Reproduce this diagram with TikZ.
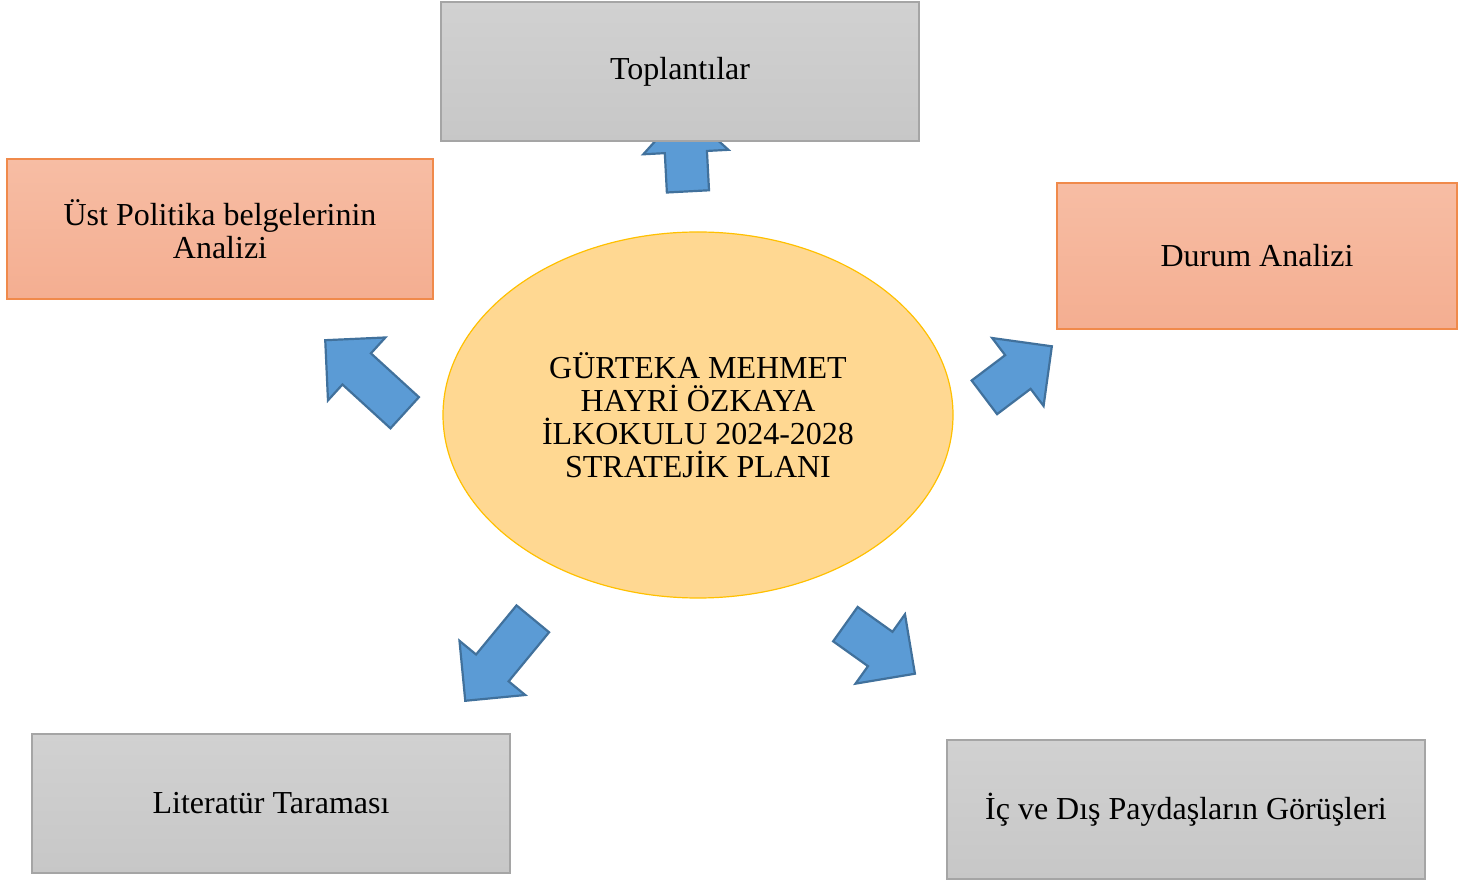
\documentclass[tikz,border=0pt]{standalone}
\usepackage{fontspec}
\setmainfont{Liberation Serif}
\usetikzlibrary{shapes.geometric,shapes.arrows}
\definecolor{grayTop}{HTML}{D1D1D1}
\definecolor{grayBot}{HTML}{C7C7C7}
\definecolor{grayEdge}{HTML}{A5A5A5}
\definecolor{salmonTop}{HTML}{F7BDA4}
\definecolor{salmonBot}{HTML}{F4AE91}
\definecolor{salmonEdge}{HTML}{F08A4B}
\definecolor{planFill}{HTML}{FFD892}
\definecolor{planEdge}{HTML}{FFC000}
\definecolor{arFill}{HTML}{5B9BD5}
\definecolor{arEdge}{HTML}{41719C}
\tikzset{
	txt/.style={font=\fontsize{16}{16.5}\selectfont, align=center, inner sep=0pt},
	graybox/.style={txt, draw=grayEdge, line width=0.7pt,
		top color=grayTop, bottom color=grayBot,
		minimum width=239pt, minimum height=69.5pt},
	salmonbox/.style={txt, draw=salmonEdge, line width=0.7pt,
		top color=salmonTop, bottom color=salmonBot},
	planshape/.style={txt, ellipse, draw=planEdge, fill=planFill, line width=0.6pt,
		minimum width=255pt, minimum height=183pt},
	% block arrows: head 41.5pt wide, shaft about 20pt
	blockar/.style={single arrow, draw=arEdge, fill=arFill, line width=1.1pt,
		minimum width=41.5pt, single arrow head extend=10.75pt,
		single arrow tip angle=90, inner xsep=0pt, inner ysep=10pt, anchor=tail,
		minimum height=#1},
	blockar/.default=42pt
}
\begin{document}
\begin{tikzpicture}[x=0.5pt, y=-0.5pt]
	\useasboundingbox (0,0) rectangle (1478,881);
	% arrows first, the top one goes under its box
	\node[blockar=41pt, rotate=93] (arTop) at (688,192.5) {};
	\node[blockar=53.8pt, rotate=137.6] (arUst) at (405.5,413.5) {};
	\node[blockar=42.3pt, rotate=37.1] (arDurum) at (983.5,398) {};
	\node[blockar=53.1pt, rotate=230.5] (arLit) at (533.5,618) {};
	\node[blockar=42.7pt, rotate=-35.5] (arGorus) at (844.5,623.5) {};
	% center
	\node[planshape] (plan) at (698,415)
		{GÜRTEKA MEHMET\\HAYRİ ÖZKAYA\\İLKOKULU 2024-2028\\STRATEJİK PLANI};
	% boxes
	\node[graybox] (toplanti) at (680,71.5) {\raisebox{-1.5pt}{Toplantılar}};
	\node[salmonbox, minimum width=213pt, minimum height=70pt] (ust) at (220,229)
		{Üst Politika belgelerinin\\Analizi};
	\node[salmonbox, minimum width=200pt, minimum height=73pt] (durum) at (1257,256)
		{Durum Analizi};
	\node[graybox] (lit) at (271,803.5) {Literatür Taraması};
	\node[graybox] (gorus) at (1186,809.5) {İç ve Dış Paydaşların Görüşleri};
\end{tikzpicture}
\end{document}
